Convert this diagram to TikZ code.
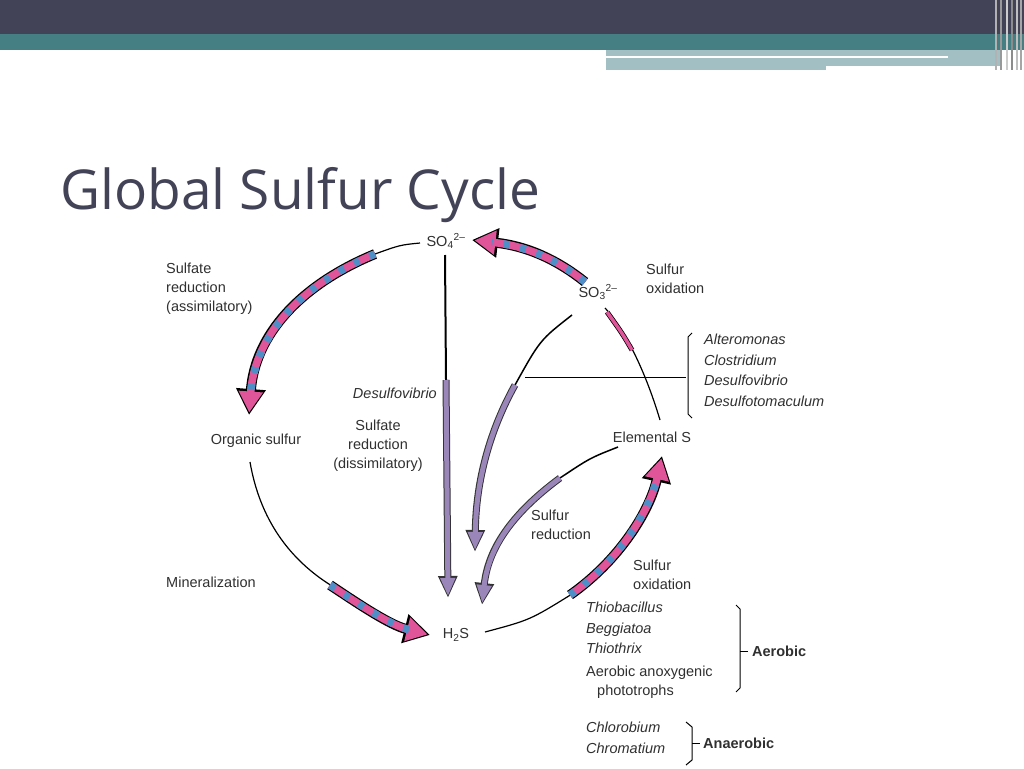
\documentclass[tikz,border=0pt]{standalone}
\usepackage{fontspec}
\setmainfont{Liberation Sans}
\newfontfamily\titlefont{Open Sans}
\usetikzlibrary{arrows.meta}
\definecolor{barA}{HTML}{434357}
\definecolor{barB}{HTML}{467F83}
\definecolor{barC}{HTML}{A2BFC3}
\definecolor{pinkc}{HTML}{E0559A}
\definecolor{bluec}{HTML}{4F8FC8}
\definecolor{purc}{HTML}{9A86B8}
\definecolor{txt}{HTML}{303030}
\newcommand\sarrow[1]{%
 \draw[black,line width=10pt,-{Triangle[length=26pt,width=28pt]}] #1;
 \draw[pinkc,line width=7.5pt,-{Triangle[length=21pt,width=23pt]},shorten >=2.5pt] #1;
 \draw[bluec,line width=7.5pt,dash pattern=on 6pt off 11pt,shorten >=20pt] #1;}
\newcommand\parrow[1]{%
 \draw[black!80,line width=7pt,-{Triangle[length=22pt,width=18pt]}] #1;
 \draw[purc,line width=5pt,-{Triangle[length=18pt,width=14pt]},shorten >=2pt] #1;}
\tikzset{lbl/.style={font=\fontsize{14.5}{19}\selectfont,text=txt,inner sep=0pt,align=left},
 thin/.style={black,line width=1.2pt}}
\begin{document}
\begin{tikzpicture}[x=1pt,y=-1pt]
\useasboundingbox (0,0) rectangle (1024,768);
\fill[white] (0,0) rectangle (1024,768);
\fill[barA] (0,0) rectangle (1024,34);
\fill[barB] (0,34) rectangle (1024,50);
\fill[barC] (606,50) rectangle (1000,70);
\fill[white] (606,56) rectangle (948,58);
\fill[white] (826,66) rectangle (1005,70);
\foreach \x/\c in {995/gray!60,1000/gray!80,1006/gray!40,1011/gray!90,1016/gray!50,1020/gray!70}
  \fill[\c] (\x,0) rectangle ++(2,70);
\node[anchor=base west,inner sep=0pt,text=barA,font=\titlefont\fontsize{55}{60}\selectfont] (title) at (60,209) {Global Sulfur Cycle};
% chemical nodes
\node[lbl] (so4) at (446,241) {SO\textsubscript{4}\textsuperscript{2–}};
\node[lbl] (so3) at (598,292) {SO\textsubscript{3}\textsuperscript{2–}};
\node[lbl] (els) at (652,437) {Elemental S};
\node[lbl] (h2s) at (456,635) {H\textsubscript{2}S};
\node[lbl] (org) at (256,441) {Organic sulfur};
% assimilatory
\draw[thin] (420,243) .. controls (400,245) .. (375,254);
\sarrow{(375,254) .. controls (300,285) and (255,335) .. (249,415)}
% mineralization
\draw[thin] (250,462) .. controls (260,520) and (290,560) .. (332,586);
\sarrow{(330,585) .. controls (360,605) and (390,625) .. (430,635)}
% oxidation to elemental S
\draw[thin] (485,632) .. controls (530,620) .. (572,594);
\sarrow{(570,595) .. controls (620,560) and (650,510) .. (662,456)}
% elemental S to SO3
\draw[thin] (660,420) .. controls (645,370) and (625,330) .. (605,308);
\draw[black,line width=5pt] (632,350) .. controls (622,333) .. (607,312);
\draw[pinkc,line width=3.5pt] (632,350) .. controls (622,333) .. (607,312);
% SO3 to SO4
\sarrow{(585,282) .. controls (555,258) and (525,246) .. (472,240)}
% dissimilatory
\draw[black,line width=2pt] (445,255) -- (446,380);
\parrow{(446,380) -- (448,598)}
\draw[black,line width=1.5pt] (572,315) .. controls (540,340) .. (515,385);
\parrow{(515,385) .. controls (490,430) and (476,480) .. (475,552)}
\draw[black,line width=1.5pt] (618,447) .. controls (590,458) .. (560,478);
\parrow{(560,478) .. controls (510,515) and (488,550) .. (482,605)}
% bracket line
\coordinate (lineL) at (525,377);
\draw[black,line width=1pt] (lineL) -- (686,377);
\draw[black,line width=1pt] (692,333) -- (688,337) -- (688,414) -- (692,418);
\node[lbl,anchor=north west,font=\fontsize{14.5}{20.5}\selectfont\itshape] (genera1) at (704,334) {Alteromonas\\Clostridium\\Desulfovibrio\\Desulfotomaculum};
% labels
\node[lbl,anchor=north west] (l1) at (166,263) {Sulfate\\reduction\\(assimilatory)};
\node[lbl,anchor=north west] (l2) at (646,264) {Sulfur\\oxidation};
\node[lbl,anchor=east,font=\fontsize{14.5}{19}\selectfont\itshape] (l3) at (437,393) {Desulfovibrio};
\node[lbl,anchor=north,align=center] (l4) at (378,420) {Sulfate\\reduction\\(dissimilatory)};
\node[lbl,anchor=west] (l5) at (166,582) {Mineralization};
\node[lbl,anchor=north west] (l6) at (531,510) {Sulfur\\reduction};
\node[lbl,anchor=north west] (l7) at (633,560) {Sulfur\\oxidation};
\node[lbl,anchor=north west,font=\fontsize{14.5}{20.5}\selectfont\itshape] (genera2) at (586,602) {Thiobacillus\\Beggiatoa\\Thiothrix};
\node[lbl,anchor=north west] (aan) at (586,666) {Aerobic anoxygenic\\\hspace*{11pt}phototrophs};
\draw[black,line width=1pt] (736,605) -- (740,609) -- (740,688) -- (736,692);
\draw[black,line width=1pt] (740,651) -- (748,651);
\node[lbl,anchor=west,font=\fontsize{14.5}{19}\selectfont\bfseries] (aer) at (752,651) {Aerobic};
\node[lbl,anchor=north west,font=\fontsize{14.5}{20.5}\selectfont\itshape] (genera3) at (586,722) {Chlorobium\\Chromatium};
\draw[black,line width=1pt] (686,722) -- (692,727) -- (692,760) -- (686,765);
\draw[black,line width=1pt] (692,743) -- (700,743);
\node[lbl,anchor=west,font=\fontsize{14.5}{19}\selectfont\bfseries] (anaer) at (703,743) {Anaerobic};
\end{tikzpicture}
\end{document}
